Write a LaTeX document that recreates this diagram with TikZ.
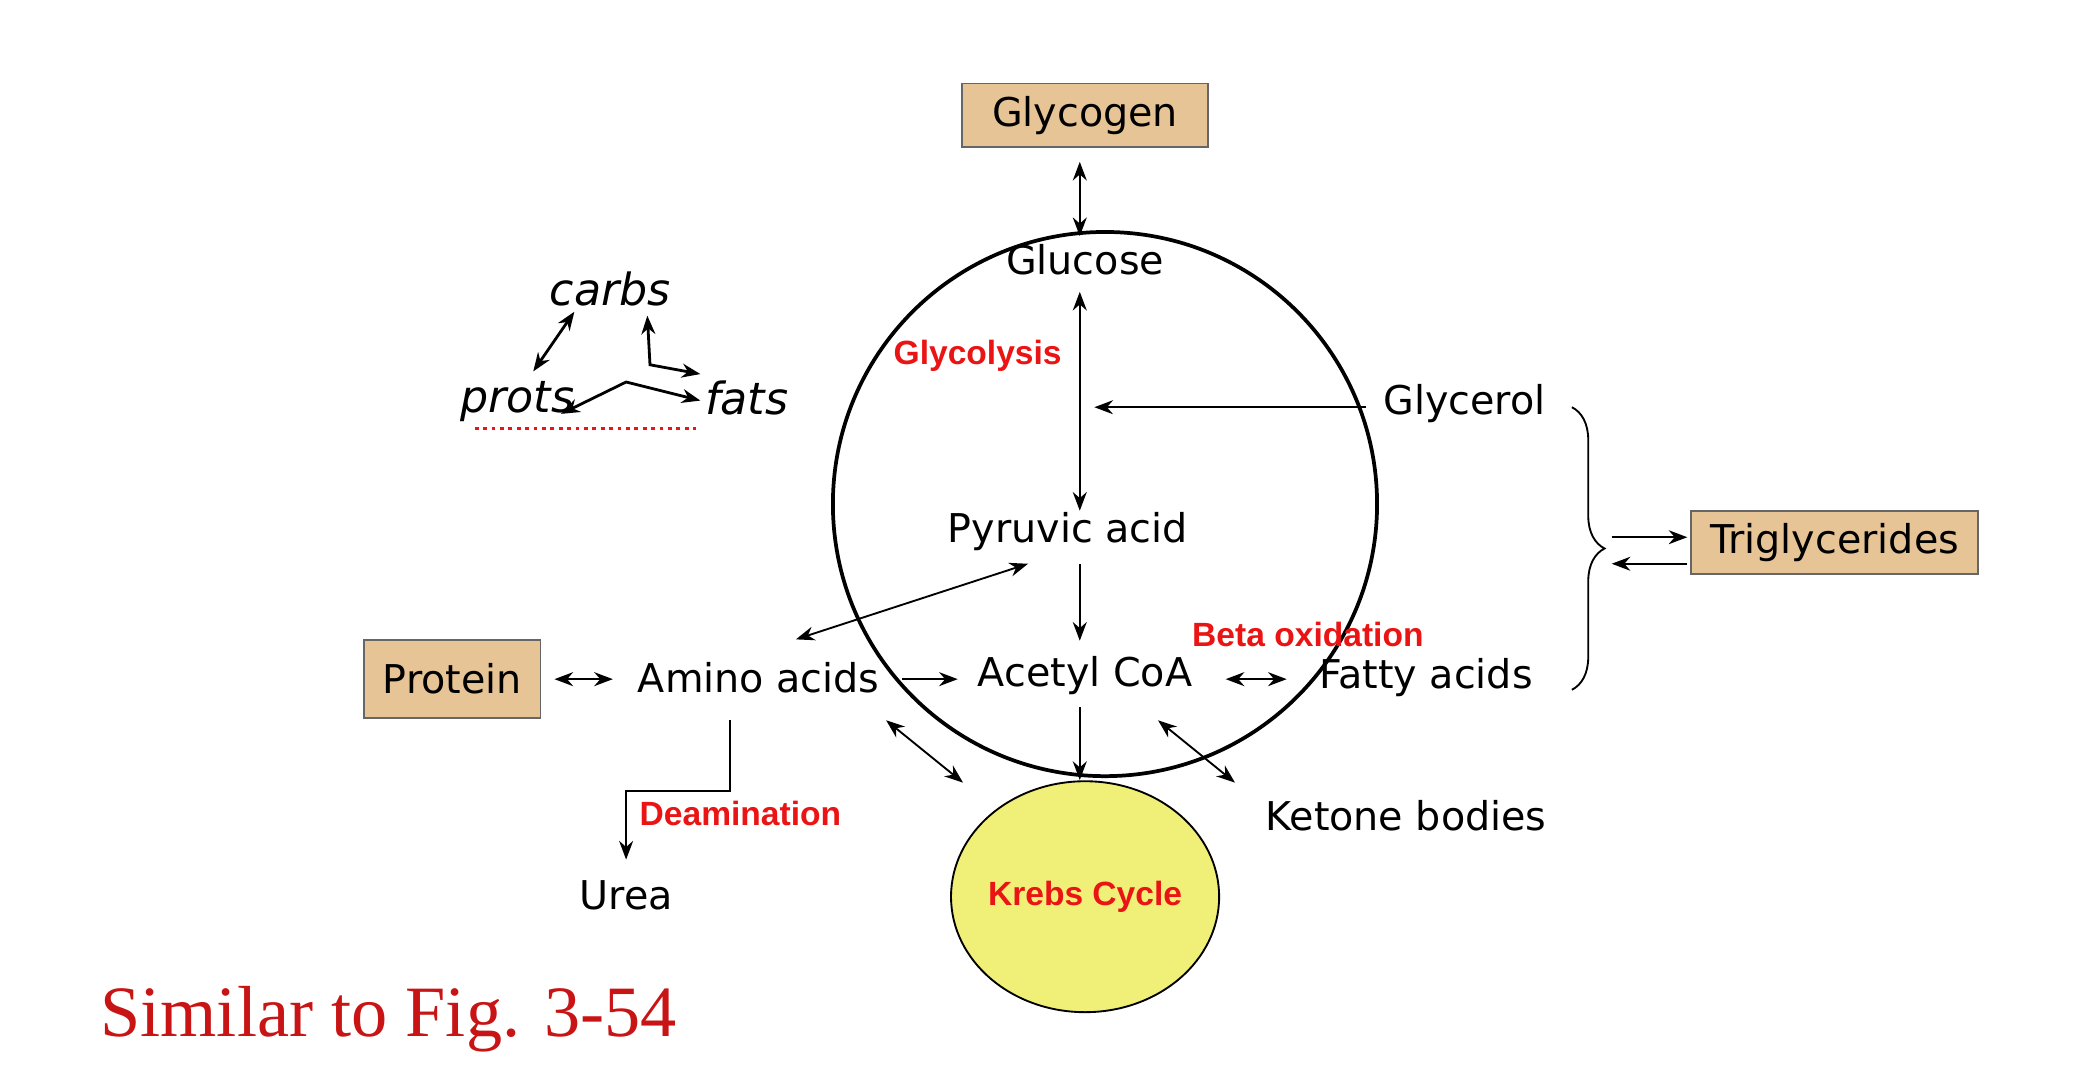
\documentclass[tikz,border=0pt]{standalone}
\usepackage{fontspec}
\setmainfont{DejaVu Sans}
\newfontfamily\redfont{Liberation Sans}
\newfontfamily\capfont{Liberation Serif}
\usetikzlibrary{arrows.meta, positioning, shapes.geometric, decorations.pathreplacing}
\definecolor{boxtan}{RGB}{230,196,150}
\definecolor{krebsyellow}{RGB}{240,240,120}
\definecolor{labred}{RGB}{235,20,20}
\definecolor{capred}{RGB}{200,20,20}

\begin{document}
\begin{tikzpicture}[x=0.01cm, y=-0.01cm,
    arr/.style={-{Stealth[length=4pt,width=3pt]}, thin},
    dbl/.style={{Stealth[length=4pt,width=3pt]}-{Stealth[length=4pt,width=3pt]}, thin},
    txt/.style={font=\fontsize{8.5}{10}\selectfont, inner sep=1pt},
    tanbox/.style={txt, draw=black!60, fill=boxtan, minimum height=0.48cm, inner xsep=4pt},
    redlab/.style={font=\redfont\bfseries\fontsize{7.2}{9}\selectfont, text=labred, inner sep=1pt},
    hand/.style={font=\itshape\fontsize{9.5}{12}\selectfont, inner sep=1pt}]
    \useasboundingbox (0,0) rectangle (1565,822);

    % Main cycle and Krebs
    \draw[thick] (833,380) circle (2.05cm);
    \node[draw, thin, fill=krebsyellow, ellipse, minimum width=2.02cm, minimum height=1.74cm] (krebs) at (818,676) {};
    \node[redlab] at (krebs) {Krebs Cycle};

    % Boxes
    \node[tanbox, minimum width=1.85cm] (glycogen) at (818,87) {Glycogen};
    \node[tanbox, minimum width=1.26cm, minimum height=0.59cm] (protein) at (341,512) {Protein};
    \node[tanbox, minimum width=2.14cm] (trigly) at (1383,409) {Triglycerides};

    % Metabolites
    \node[txt] (glucose) at (818,196) {Glucose};
    \node[txt] (pyruvic) at (805,401) {Pyruvic acid};
    \node[txt] (acetyl) at (818,509) {Acetyl CoA};
    \node[txt] (amino) at (572,511) {Amino acids};
    \node[txt] (fatty) at (1075,511) {Fatty acids};
    \node[txt] (glycerol) at (1104,304) {Glycerol};
    \node[txt] (ketone) at (1060,615) {Ketone bodies};
    \node[txt] (urea) at (472,675) {Urea};

    % Red labels
    \node[redlab] at (737,268) {Glycolysis};
    \node[redlab] at (986,478) {Beta oxidation};
    \node[redlab, anchor=west] at (478,613) {Deamination};

    % Connectors
    \draw[dbl] (814,122) -- (814,178);
    \draw[dbl] (814,220) -- (814,385);
    \draw[arr] (1030,307) -- (825,307);
    \draw[arr] (814,425) -- (814,483);
    \draw[dbl] (600,482) -- (775,425);
    \draw[dbl] (418,512) -- (462,512);
    \draw[arr] (680,512) -- (722,512);
    \draw[dbl] (924,512) -- (970,512);
    \draw[arr] (814,533) -- (814,588);
    \draw[dbl] (668,543) -- (726,590);
    \draw[dbl] (873,543) -- (931,590);
    \draw[arr] (550,543) -- (550,596) -- (472,596) -- (472,648);

    % Brace to triglycerides
    \draw[thin, decorate, decoration={brace, amplitude=7pt}] (1185,307) -- (1185,520);
    \draw[arr] (1215,405) -- (1272,405);
    \draw[arr] (1272,425) -- (1215,425);

    % Handwritten note
    \node[hand] (carbs) at (460,218) {carbs};
    \node[hand] (prots) at (390,303) {prots};
    \node[hand] (fats) at (563,300) {fats};
    \draw[dbl, semithick] (433,235) -- (402,280);
    \draw[dbl, semithick] (488,238) -- (490,275) -- (528,282);
    \draw[dbl, semithick] (423,312) -- (472,288) -- (528,302);
    \draw[labred, densely dotted, thick] (358,323) -- (525,323);

    \node[font=\capfont\fontsize{15.5}{18}\selectfont, text=capred, anchor=west, inner sep=0pt] at (75,768) {Similar to Fig. 3-54};
\end{tikzpicture}
\end{document}
